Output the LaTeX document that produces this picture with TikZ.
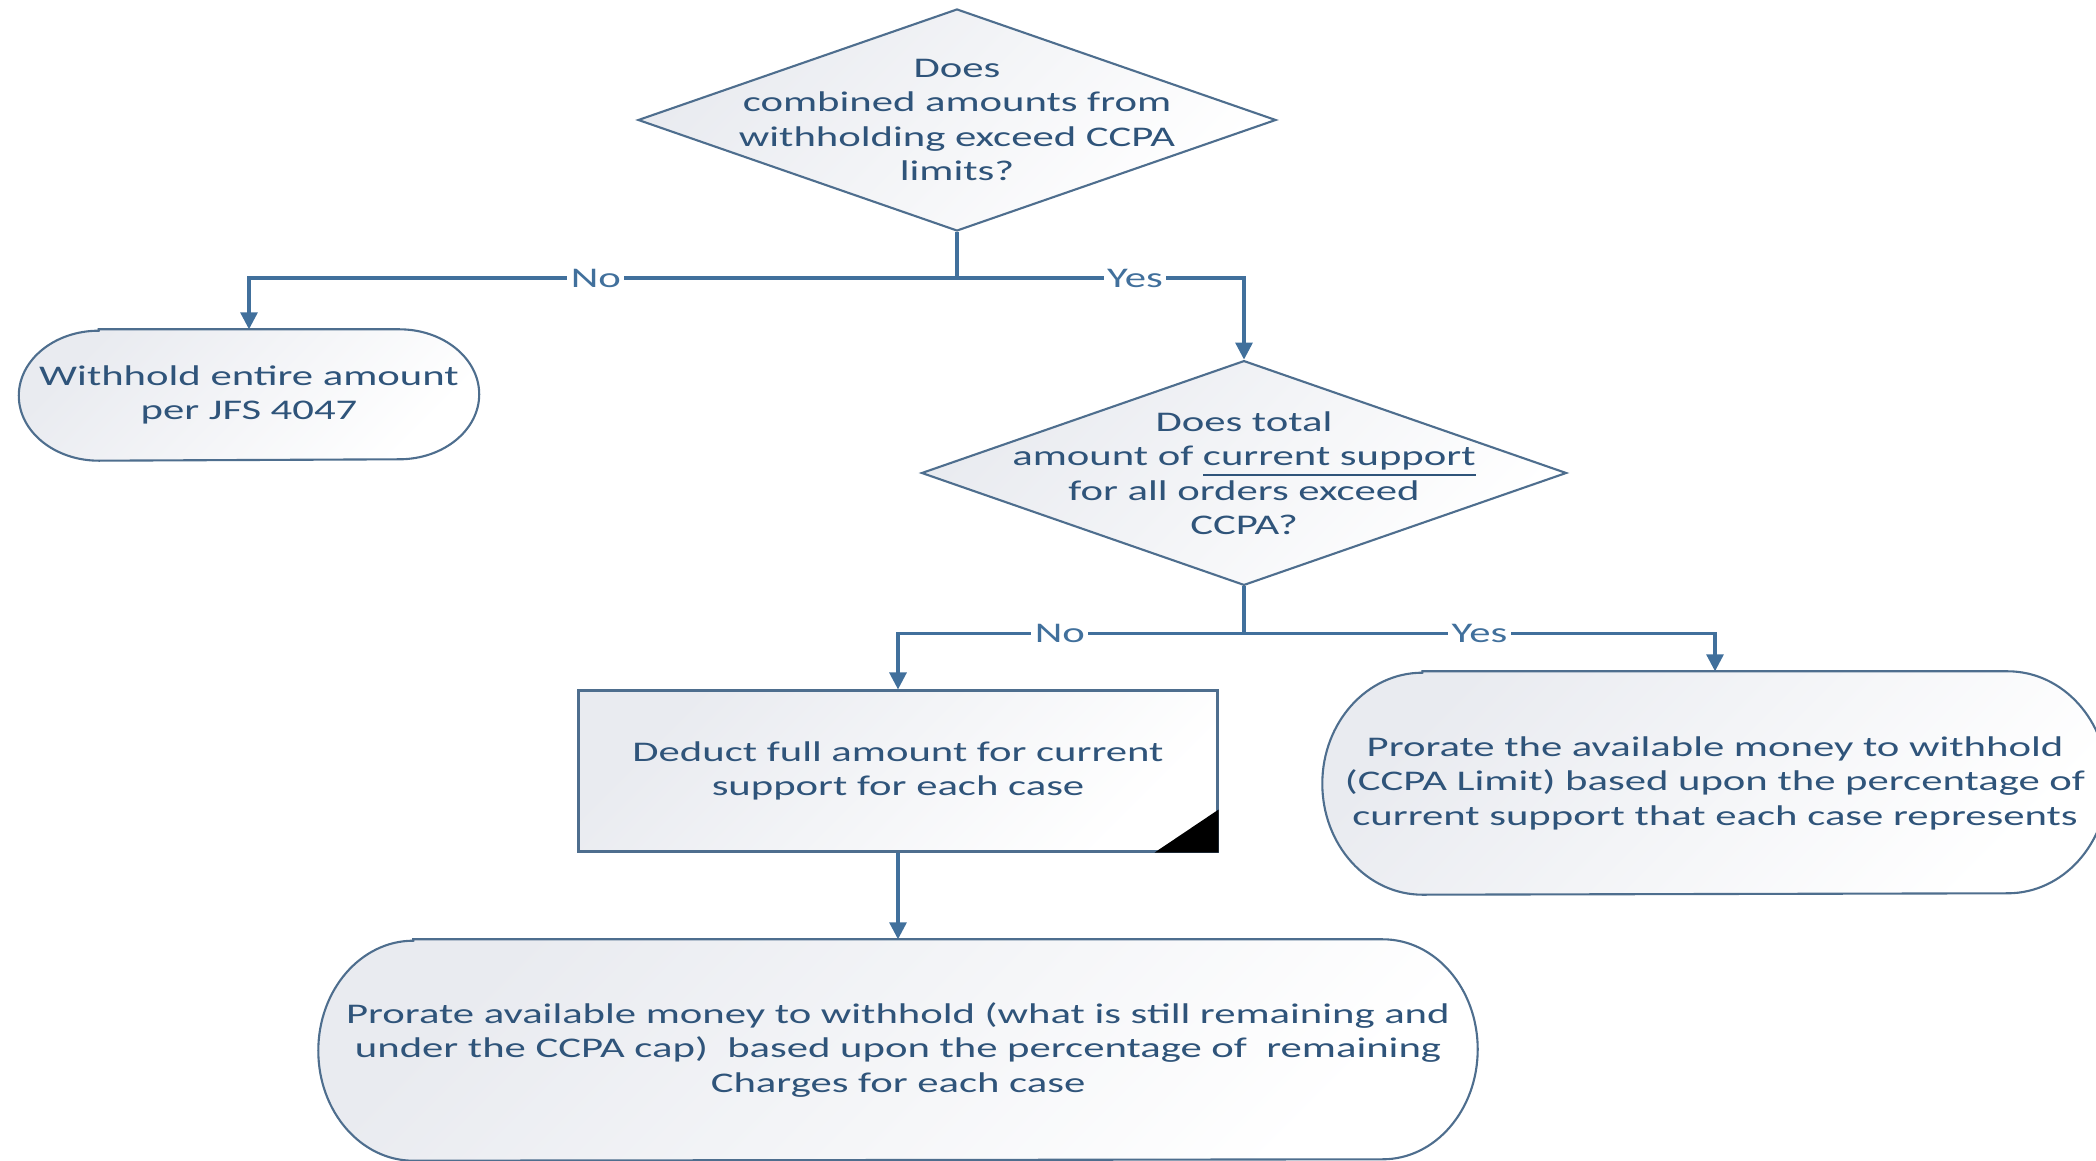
\documentclass[tikz,border=0pt]{standalone}
\usepackage{fontspec}
\setmainfont{Carlito}[FakeStretch=1.5]
\usetikzlibrary{positioning,arrows.meta,shapes.geometric,backgrounds,calc}

\definecolor{inkblue}{RGB}{47,84,122}
\definecolor{edgeblue}{RGB}{78,110,142}
\definecolor{flowblue}{RGB}{65,112,156}
\definecolor{shadegray}{RGB}{233,235,240}

% outline of a terminator with half-ellipse ends, drawn round a named node
\newcommand{\termoutline}[3]{%
  \path[termline] ([xshift=#2]#1.north west) -- ([xshift=-#2]#1.north east)
    arc[start angle=90, end angle=-90, x radius=#2, y radius=#3]
    -- ([xshift=#2]#1.south west)
    arc[start angle=270, end angle=90, x radius=#2, y radius=#3] -- cycle;}

\begin{document}
\begin{tikzpicture}[
  every node/.style={font=\fontsize{8.1}{9.8}\selectfont, text=inkblue},
  decision/.style={diamond, draw=edgeblue, line width=0.6pt, top color=shadegray, bottom color=white, shading angle=45, align=center, shape aspect=2.87, inner xsep=0pt, inner ysep=-0.3cm, minimum width=6.38cm, minimum height=2.22cm},
  process/.style={draw=edgeblue, line width=0.6pt, top color=shadegray, bottom color=white, shading angle=45, align=center, minimum width=6.39cm, minimum height=1.61cm},
  terminal/.style={align=center, inner sep=0pt},
  termline/.style={draw=edgeblue, line width=0.6pt, top color=shadegray, bottom color=white, shading angle=45},
  flow/.style={draw=flowblue, line width=0.9pt, -{Triangle[length=0.17cm, width=0.17cm]}},
  answer/.style={fill=white, inner sep=1pt, text=flowblue}
]
\useasboundingbox (0,0) rectangle (20.96,11.60);

\node[decision] (limits) at (9.57,10.40) {Does\\combined amounts from\\withholding exceed CCPA\\limits?};
\node[terminal, minimum width=4.59cm, minimum height=1.30cm] (entire) at (2.49,7.65) {Withhold entire amount\\per JFS 4047};
\node[decision] (support) at (12.44,6.87) {Does total\\amount of \underline{current support}\\for all orders exceed\\CCPA?};
\node[process] (deduct) at (8.98,3.89) {Deduct full amount for current\\support for each case};
\node[terminal, minimum width=7.84cm, minimum height=2.22cm] (prorate) at (17.15,3.77) {Prorate the available money to withhold\\(CCPA Limit) based upon the percentage of\\current support that each case represents};
\node[terminal, minimum width=11.58cm, minimum height=2.20cm] (remaining) at (8.98,1.10) {Prorate available money to withhold (what is still remaining and\\under the CCPA cap)~ based upon the percentage of~ remaining\\Charges for each case};

% corner mark of the process box
\fill (deduct.south east) -- ++(-0.64,0) -- ++(0.64,0.43) -- cycle;

\begin{pgfonlayer}{background}
\termoutline{entire}{0.8cm}{0.65cm}
\termoutline{prorate}{1.0cm}{1.11cm}
\termoutline{remaining}{0.95cm}{1.10cm}
\end{pgfonlayer}

\coordinate (split1) at ($(limits.south)+(0,-0.46)$);
\coordinate (split2) at ($(support.south)+(0,-0.47)$);

\draw[flow] (limits.south) -- (split1) -| node[answer, pos=0.255] {No} (entire.north);
\draw[flow] (split1) -| node[answer, pos=0.31] {Yes} (support.north);
\draw[flow] (support.south) -- (split2) -| node[answer, pos=0.266] {No} (deduct.north);
\draw[flow] (split2) -| node[answer, pos=0.25] {Yes} (prorate.north);
\draw[flow] (deduct) -- (remaining);
\end{tikzpicture}
\end{document}
